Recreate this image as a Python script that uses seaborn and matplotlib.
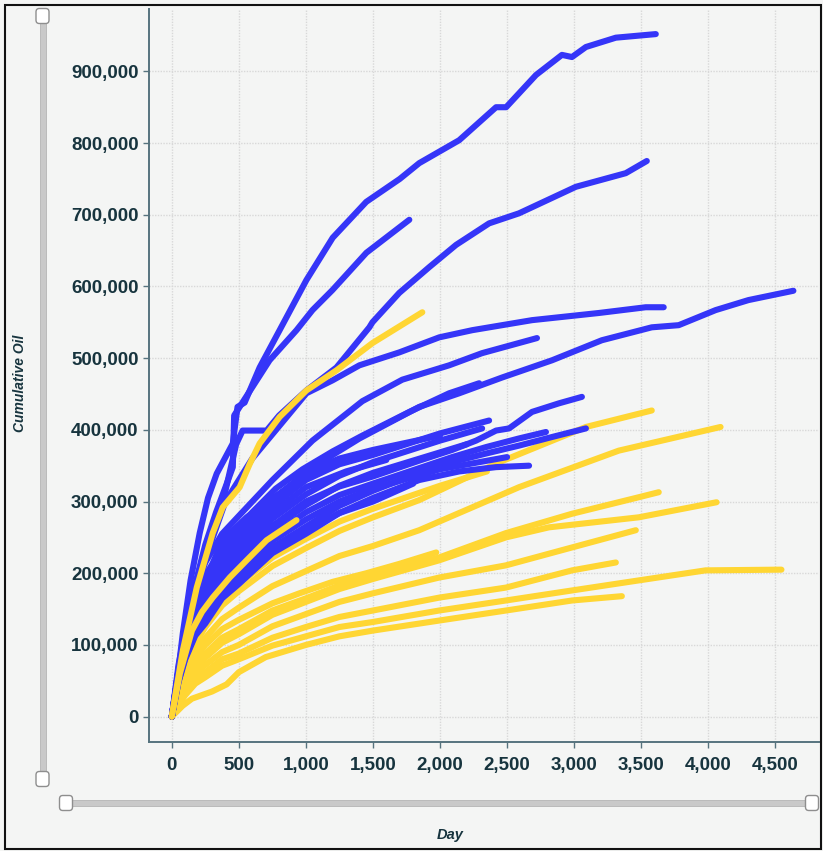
import matplotlib
matplotlib.use("Agg")
import matplotlib.pyplot as plt
import seaborn as sns
import pandas as pd
from matplotlib.patches import FancyBboxPatch, Rectangle
from matplotlib.ticker import FuncFormatter

# ---------------- data (day, cumulative oil) ----------------
B01 = [(0, 0), (40, 50e3), (82, 116e3), (140, 190e3), (208, 256e3), (270, 305e3), (335, 339e3), (455, 381e3),
       (490, 432e3), (543, 438e3), (655, 487e3), (804, 539e3), (1004, 609e3), (1200, 668e3), (1450, 718e3),
       (1700, 750e3), (1845, 772e3), (2143, 804e3), (2418, 850e3), (2493, 850e3), (2716, 895e3), (2909, 923e3),
       (2984, 920e3), (3088, 934e3), (3311, 947e3), (3609, 952e3)]
B02 = [(0, 0), (50, 65e3), (100, 115e3), (175, 185e3), (250, 240e3), (330, 285e3), (400, 320e3), (455, 348e3),
       (465, 420e3), (506, 432e3), (729, 497e3), (930, 539e3), (1049, 567e3), (1198, 595e3), (1451, 647e3),
       (1771, 693e3)]
B03 = [(0, 0), (50, 60e3), (100, 110e3), (175, 180e3), (250, 235e3), (330, 280e3), (400, 315e3), (480, 380e3),
       (528, 399e3), (707, 399e3), (800, 420e3), (1004, 455e3), (1228, 487e3), (1473, 543e3), (1496, 550e3),
       (1696, 591e3), (1920, 627e3), (2120, 658e3), (2366, 688e3), (2589, 702e3), (3013, 739e3), (3385, 758e3),
       (3542, 775e3)]
B04 = [(0, 0), (50, 62e3), (100, 110e3), (175, 172e3), (250, 220e3), (400, 300e3), (600, 360e3), (800, 405e3),
       (1004, 451e3), (1198, 469e3), (1399, 490e3), (1696, 508e3), (1994, 529e3), (2240, 539e3), (2686, 553e3),
       (3185, 563e3), (3534, 571e3), (3668, 571e3)]
B05 = [(0, 0), (50, 65e3), (100, 115e3), (175, 175e3), (250, 215e3), (375, 255e3), (500, 280e3), (751, 330e3),
       (1049, 385e3), (1421, 440e3), (1719, 470e3), (2068, 490e3), (2314, 507e3), (2723, 528e3)]
B06 = [(0, 0), (50, 62e3), (100, 110e3), (200, 170e3), (300, 210e3), (450, 255e3), (600, 285e3), (775, 318e3),
       (975, 345e3), (1200, 370e3), (1421, 392e3), (1771, 425e3), (2068, 451e3), (2292, 465e3)]
B07 = [(0, 0), (50, 60e3), (100, 105e3), (200, 162e3), (300, 200e3), (450, 245e3), (600, 275e3), (800, 310e3),
       (1000, 338e3), (1200, 365e3), (1400, 388e3), (1845, 432e3), (2143, 451e3), (2463, 473e3), (2835, 497e3),
       (3207, 525e3), (3579, 543e3), (3780, 546e3), (4055, 567e3), (4300, 581e3), (4635, 594e3)]
B08 = [(0, 0), (50, 57e3), (100, 95e3), (175, 133e3), (250, 155e3), (375, 193e3), (500, 215e3), (750, 266e3),
       (1000, 300e3), (1250, 321e3), (1500, 335e3), (1845, 357e3), (2091, 372e3), (2269, 385e3), (2418, 399e3),
       (2515, 402e3), (2686, 425e3), (2887, 437e3), (3058, 446e3)]
B09 = [(0, 0), (50, 63e3), (100, 105e3), (175, 146e3), (250, 170e3), (375, 213e3), (500, 240e3), (750, 293e3),
       (1000, 330e3), (1250, 352e3), (1500, 365e3), (2000, 395e3), (2366, 413e3)]
B10 = [(0, 0), (50, 54e3), (100, 90e3), (175, 125e3), (250, 145e3), (375, 183e3), (500, 205e3), (750, 253e3),
       (1000, 285e3), (1250, 309e3), (1500, 325e3), (2091, 362e3), (2344, 376e3), (2589, 388e3), (2790, 397e3)]
B11 = [(0, 0), (50, 51e3), (100, 85e3), (175, 118e3), (250, 135e3), (375, 170e3), (500, 190e3), (750, 236e3),
       (1000, 265e3), (1250, 294e3), (1500, 315e3), (1845, 340e3), (2091, 355e3), (2344, 367e3), (2589, 378e3),
       (2835, 390e3), (3088, 402e3)]
B12 = [(0, 0), (50, 48e3), (100, 80e3), (175, 113e3), (250, 130e3), (375, 165e3), (500, 185e3), (750, 228e3),
       (1000, 255e3), (1250, 284e3), (1500, 305e3), (1845, 330e3), (2143, 342e3), (2418, 348e3), (2664, 350e3)]
B13 = [(0, 0), (50, 60e3), (100, 100e3), (175, 138e3), (250, 160e3), (375, 200e3), (500, 225e3), (750, 276e3),
       (1000, 310e3), (1250, 336e3), (1500, 355e3), (2000, 385e3), (2314, 402e3)]
B14 = [(0, 0), (50, 72e3), (100, 120e3), (200, 180e3), (305, 214e3), (379, 246e3), (558, 278e3), (804, 311e3),
       (1049, 339e3), (1265, 357e3)]
B15 = [(0, 0), (50, 57e3), (100, 95e3), (175, 130e3), (250, 150e3), (375, 189e3), (500, 212e3), (750, 262e3),
       (1000, 295e3), (1250, 322e3), (1500, 340e3), (2200, 380e3)]
B16 = [(0, 0), (50, 66e3), (100, 110e3), (175, 152e3), (250, 178e3), (375, 222e3), (500, 250e3), (750, 303e3),
       (1000, 340e3), (1250, 360e3), (1500, 372e3), (2000, 392e3)]
B17 = [(0, 0), (50, 61e3), (100, 102e3), (175, 141e3), (250, 165e3), (375, 206e3), (500, 232e3), (750, 284e3),
       (1000, 320e3), (1300, 342e3), (1600, 358e3)]
B18 = [(0, 0), (50, 53e3), (100, 88e3), (175, 122e3), (250, 140e3), (375, 177e3), (500, 198e3), (750, 245e3),
       (1000, 275e3), (1250, 300e3), (1500, 318e3), (2000, 345e3), (2500, 362e3)]
B19 = [(0, 0), (50, 49e3), (100, 82e3), (175, 115e3), (250, 133e3), (375, 168e3), (500, 188e3), (750, 232e3),
       (1000, 260e3), (1250, 284e3), (1500, 300e3), (1800, 325e3)]

Y01 = [(0, 0), (7, 8e3), (82, 92e3), (186, 180e3), (305, 256e3), (380, 292e3), (506, 320e3), (580, 352e3),
       (655, 381e3), (804, 418e3), (1004, 455e3), (1228, 483e3), (1496, 521e3), (1868, 564e3)]
Y02 = [(0, 0), (60, 60e3), (150, 120e3), (225, 146e3), (305, 166e3), (432, 194e3), (558, 218e3), (707, 246e3),
       (930, 274e3)]
Y03 = [(0, 0), (50, 40e3), (100, 70e3), (175, 102e3), (250, 125e3), (375, 155e3), (500, 175e3), (750, 210e3),
       (1000, 235e3), (1250, 259e3), (1500, 278e3), (1845, 302e3), (2418, 353e3), (3088, 404e3), (3579, 427e3)]
Y04 = [(0, 0), (50, 35e3), (100, 62e3), (175, 90e3), (250, 110e3), (375, 136e3), (500, 152e3), (750, 182e3),
       (1000, 203e3), (1250, 224e3), (1500, 238e3), (1845, 260e3), (2589, 320e3), (3333, 371e3), (4092, 404e3)]
Y05 = [(0, 0), (50, 28e3), (100, 50e3), (175, 73e3), (250, 88e3), (375, 110e3), (500, 122e3), (750, 148e3),
       (1000, 165e3), (1250, 183e3), (1500, 196e3), (1994, 222e3), (2492, 256e3), (2985, 283e3), (3482, 306e3),
       (3631, 313e3)]
Y06 = [(0, 0), (50, 25e3), (100, 45e3), (175, 67e3), (250, 82e3), (375, 103e3), (500, 115e3), (750, 142e3),
       (1000, 160e3), (1250, 178e3), (1500, 192e3), (1994, 218e3), (2492, 250e3), (2812, 264e3), (3482, 278e3),
       (4062, 299e3)]
Y07 = [(0, 0), (50, 22e3), (100, 40e3), (175, 60e3), (250, 72e3), (375, 90e3), (500, 100e3), (750, 126e3),
       (1000, 143e3), (1250, 160e3), (1500, 172e3), (1994, 194e3), (2492, 211e3), (2985, 236e3), (3460, 260e3)]
Y08 = [(0, 0), (50, 19e3), (100, 35e3), (175, 52e3), (250, 62e3), (375, 80e3), (500, 88e3), (750, 110e3),
       (1000, 125e3), (1250, 139e3), (1500, 148e3), (1994, 166e3), (2492, 180e3), (2985, 204e3), (3311, 215e3)]
Y09 = [(0, 0), (50, 16e3), (100, 30e3), (175, 46e3), (250, 55e3), (375, 71e3), (500, 80e3), (750, 99e3),
       (1000, 112e3), (1250, 125e3), (1500, 132e3), (1994, 148e3), (2492, 162e3), (2985, 176e3), (3482, 190e3),
       (3980, 204e3), (4546, 205e3)]
Y10 = [(0, 0), (80, 15e3), (150, 25e3), (300, 35e3), (409, 45e3), (500, 62e3), (700, 83e3), (1000, 100e3),
       (1250, 112e3), (1500, 120e3), (1994, 134e3), (2492, 148e3), (2985, 162e3), (3356, 168e3)]
Y11 = [(0, 0), (50, 30e3), (100, 55e3), (175, 82e3), (250, 100e3), (375, 122e3), (500, 135e3), (750, 158e3),
       (952, 172e3), (1200, 188e3), (1451, 200e3), (1696, 213e3), (1972, 229e3)]
Y12 = [(0, 0), (50, 42e3), (100, 75e3), (175, 110e3), (250, 135e3), (375, 165e3), (500, 185e3), (750, 222e3),
       (1000, 248e3), (1250, 272e3), (1500, 290e3), (2000, 322e3), (2350, 342e3)]

blue_wells = [B01, B02, B03, B04, B05, B06, B07, B08, B09, B10, B11, B12, B13, B14, B15, B16, B17, B18, B19]
yellow_under = [Y03, Y04, Y05, Y06, Y07, Y08, Y09, Y10, Y11, Y12]
yellow_over = [Y01, Y02]

y_ticks = [0, 100000, 200000, 300000, 400000, 500000, 600000, 700000, 800000, 900000]
x_ticks = [0, 500, 1000, 1500, 2000, 2500, 3000, 3500, 4000, 4500]

BLUE = "#3535F8"
YELLOW = "#FFD633"
BG = "#F4F5F4"
TXT = "#17343E"
SPINE = "#56737E"


def to_frame(curves, group, prefix):
    rows = []
    for i, c in enumerate(curves):
        for d, v in c:
            rows.append({"Day": d, "Cumulative Oil": v, "Group": group, "Well": f"{prefix}{i}"})
    return pd.DataFrame(rows)


df_yu = to_frame(yellow_under, "Y", "yu")
df_b = to_frame(blue_wells, "B", "b")
df_yo = to_frame(yellow_over, "Y", "yo")

sns.set_theme(style="white")
plt.rcParams["font.family"] = ["Liberation Sans", "DejaVu Sans"]

fig = plt.figure(figsize=(8.23, 8.51), dpi=100, facecolor=BG)
W, H = 823, 851
ax = fig.add_axes([149 / W, 1 - 742 / H, (819 - 149) / W, (742 - 9) / H])
ax.set_facecolor(BG)

lw = 4.4
for df in (df_yu, df_b, df_yo):
    sns.lineplot(data=df, x="Day", y="Cumulative Oil", hue="Group", units="Well", estimator=None,
                 palette={"B": BLUE, "Y": YELLOW}, sort=False, linewidth=lw, legend=False, ax=ax,
                 solid_capstyle="round", solid_joinstyle="round")

ax.set_xlim(-170, 4826)
ax.set_ylim(-35400, 987000)
ax.set_xticks(x_ticks)
ax.set_yticks(y_ticks)
fmt = FuncFormatter(lambda v, p: f"{int(v):,}")
ax.xaxis.set_major_formatter(fmt)
ax.yaxis.set_major_formatter(fmt)
ax.grid(True, color="#D8D8D8", linestyle=(0, (1, 1)), linewidth=1.0)
ax.set_axisbelow(True)
for s in ("top", "right"):
    ax.spines[s].set_visible(False)
for s in ("left", "bottom"):
    ax.spines[s].set_color(SPINE)
    ax.spines[s].set_linewidth(1.4)
ax.tick_params(axis="both", which="major", direction="out", length=4, width=1.0, color=SPINE,
               labelcolor=TXT, labelsize=13.5)
ax.tick_params(axis="y", pad=3.5, left=True)
ax.tick_params(axis="x", pad=6.5, bottom=True)
for lab in ax.get_xticklabels() + ax.get_yticklabels():
    lab.set_fontweight("bold")
ax.set_xlabel("")
ax.set_ylabel("")

fig.text(20 / W, 1 - 383 / H, "Cumulative Oil", rotation=90, ha="center", va="center",
         fontsize=10, fontstyle="italic", fontweight="bold", color=TXT)
fig.text(450 / W, 1 - 835 / H, "Day", ha="center", va="center",
         fontsize=10.5, fontstyle="italic", fontweight="bold", color=TXT)


def px_rect(x0, y0, w, h, **kw):
    return Rectangle((x0 / W, 1 - (y0 + h) / H), w / W, h / H, transform=fig.transFigure, **kw)


def px_handle(cx, cy, w, h):
    return FancyBboxPatch(((cx - w / 2) / W, 1 - (cy + h / 2) / H), w / W, h / H,
                          boxstyle="round,pad=0,rounding_size=0.004", transform=fig.transFigure,
                          facecolor="white", edgecolor="#8E8E8E", linewidth=1.0)


fig.patches.append(px_rect(39.5, 15, 6, 765, facecolor="#C9C9C9", edgecolor="#B5B5B5", linewidth=0.6))
fig.patches.append(px_rect(66, 799.5, 747, 6, facecolor="#C9C9C9", edgecolor="#B5B5B5", linewidth=0.6))
fig.patches.append(px_handle(42.5, 16, 13, 15))
fig.patches.append(px_handle(42.5, 779, 13, 15))
fig.patches.append(px_handle(66, 803, 13, 15))
fig.patches.append(px_handle(812, 803, 13, 15))

fig.patches.append(px_rect(4.5, 4.5, 816, 844, facecolor="none", edgecolor="#111111", linewidth=1.5))

fig.savefig("out.png", dpi=100, facecolor=BG)
